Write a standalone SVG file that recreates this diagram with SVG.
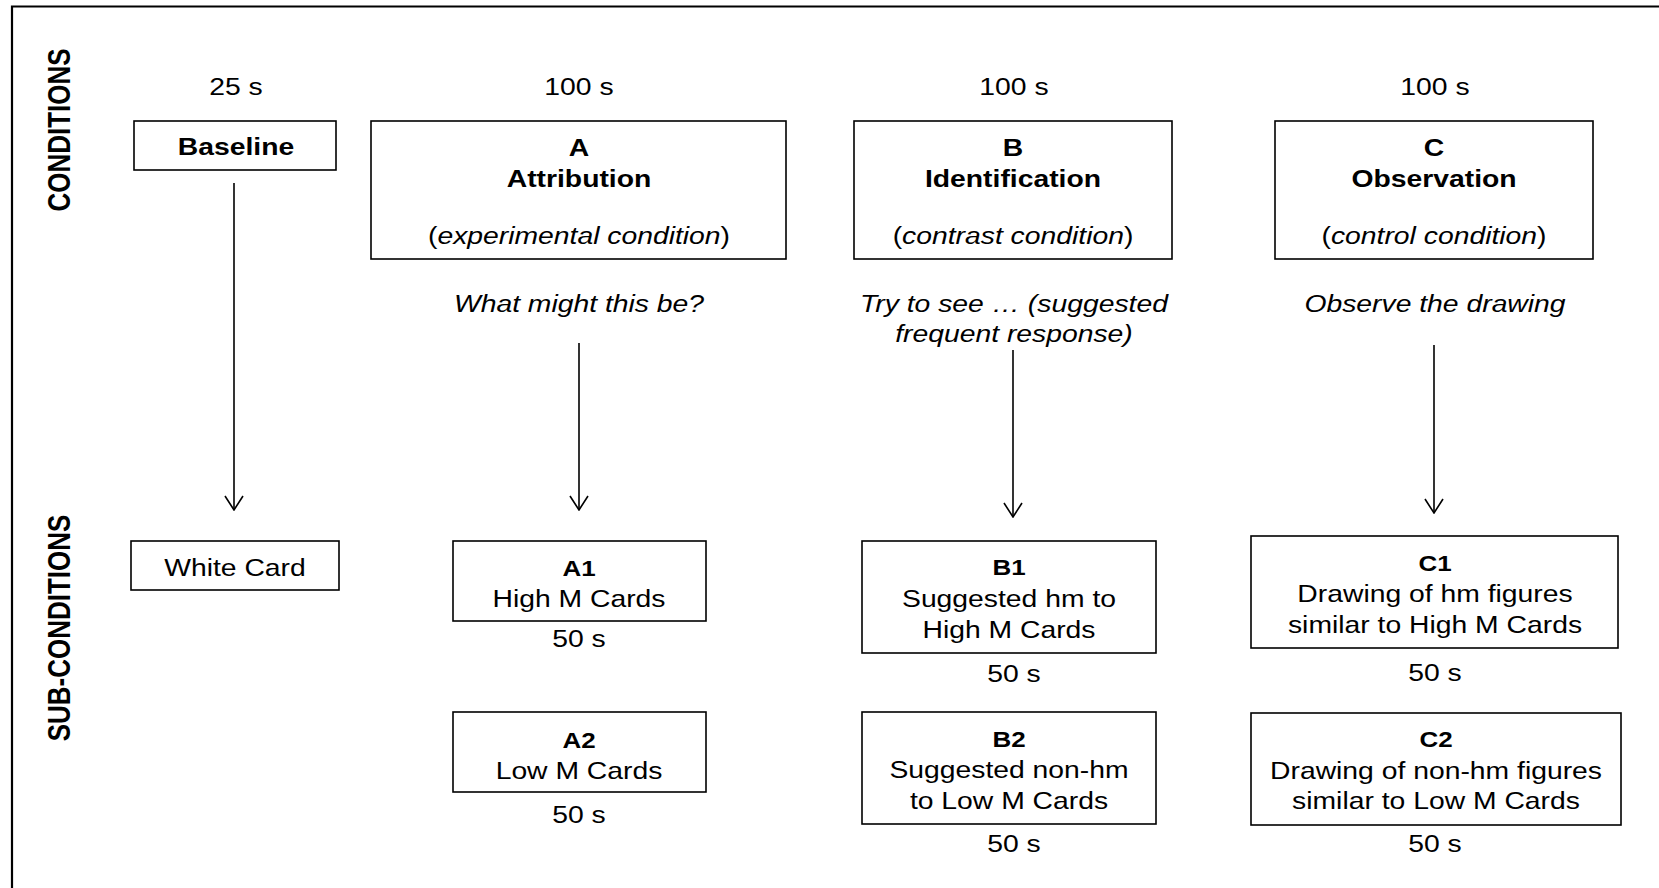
<svg xmlns="http://www.w3.org/2000/svg" width="1659" height="888" viewBox="0 0 1659 888">
<style>
.t{font-family:"Liberation Sans",Arial,sans-serif;font-size:24px;text-anchor:middle;fill:#000}
.b{font-weight:bold}
.id{font-weight:bold;font-size:22px}
.i{font-style:italic}
.side{font-family:"Liberation Sans",Arial,sans-serif;font-size:26px;font-weight:bold;text-anchor:middle;fill:#000}
.box{fill:#fff;stroke:#000;stroke-width:1.6}
.conn{stroke:#000;stroke-width:1.6;fill:none}
</style>
<defs>
<marker id="arr" viewBox="0 0 16 20" refX="15" refY="10" markerWidth="16" markerHeight="20" markerUnits="userSpaceOnUse" orient="auto">
<path d="M1,1 L15,10 L1,19" fill="none" stroke="#000" stroke-width="1.6"/>
</marker>
</defs>
<rect width="1659" height="888" fill="#fff"/>
<path d="M12,888 V6.5 H1659" fill="none" stroke="#000" stroke-width="2.2"/>

<g id="labels">
<text class="side" transform="translate(70 130) scale(1.18 1) rotate(-90)">CONDITIONS</text>
<text class="side" transform="translate(70 628) scale(1.18 1) rotate(-90)">SUB-CONDITIONS</text>
<text class="t" transform="translate(236 95) scale(1.18 1)">25 s</text>
<text class="t" transform="translate(579 95) scale(1.18 1)">100 s</text>
<text class="t" transform="translate(1014 95) scale(1.18 1)">100 s</text>
<text class="t" transform="translate(1435 95) scale(1.18 1)">100 s</text>
<text class="t i" transform="translate(579 312) scale(1.18 1)">What might this be?</text>
<text class="t i" transform="translate(1014 312) scale(1.18 1)">Try to see … (suggested</text>
<text class="t i" transform="translate(1014 342) scale(1.18 1)">frequent response)</text>
<text class="t i" transform="translate(1435 312) scale(1.18 1)">Observe the drawing</text>
</g>

<g id="node-baseline">
<rect class="box" x="134" y="121" width="202" height="49"/>
<text class="t b" transform="translate(236 155) scale(1.18 1)">Baseline</text>
</g>
<g id="node-A">
<rect class="box" x="371" y="121" width="415" height="138"/>
<text class="t b" transform="translate(579 156) scale(1.18 1)">A</text>
<text class="t b" transform="translate(579 187) scale(1.18 1)">Attribution</text>
<text class="t" transform="translate(579 244) scale(1.18 1)">(<tspan class="i">experimental condition</tspan>)</text>
</g>
<g id="node-B">
<rect class="box" x="854" y="121" width="318" height="138"/>
<text class="t b" transform="translate(1013 156) scale(1.18 1)">B</text>
<text class="t b" transform="translate(1013 187) scale(1.18 1)">Identification</text>
<text class="t" transform="translate(1013 244) scale(1.18 1)">(<tspan class="i">contrast condition</tspan>)</text>
</g>
<g id="node-C">
<rect class="box" x="1275" y="121" width="318" height="138"/>
<text class="t b" transform="translate(1434 156) scale(1.18 1)">C</text>
<text class="t b" transform="translate(1434 187) scale(1.18 1)">Observation</text>
<text class="t" transform="translate(1434 244) scale(1.18 1)">(<tspan class="i">control condition</tspan>)</text>
</g>

<g id="node-white">
<rect class="box" x="131" y="541" width="208" height="49"/>
<text class="t" transform="translate(235 576) scale(1.18 1)">White Card</text>
</g>
<g id="node-A1">
<rect class="box" x="453" y="541" width="253" height="80"/>
<text class="t id" transform="translate(579 576) scale(1.18 1)">A1</text>
<text class="t" transform="translate(579 607) scale(1.18 1)">High M Cards</text>
<text class="t" transform="translate(579 647) scale(1.18 1)">50 s</text>
</g>
<g id="node-A2">
<rect class="box" x="453" y="712" width="253" height="80"/>
<text class="t id" transform="translate(579 748) scale(1.18 1)">A2</text>
<text class="t" transform="translate(579 779) scale(1.18 1)">Low M Cards</text>
<text class="t" transform="translate(579 823) scale(1.18 1)">50 s</text>
</g>
<g id="node-B1">
<rect class="box" x="862" y="541" width="294" height="112"/>
<text class="t id" transform="translate(1009 575) scale(1.18 1)">B1</text>
<text class="t" transform="translate(1009 607) scale(1.18 1)">Suggested hm to</text>
<text class="t" transform="translate(1009 638) scale(1.18 1)">High M Cards</text>
<text class="t" transform="translate(1014 682) scale(1.18 1)">50 s</text>
</g>
<g id="node-B2">
<rect class="box" x="862" y="712" width="294" height="112"/>
<text class="t id" transform="translate(1009 747) scale(1.18 1)">B2</text>
<text class="t" transform="translate(1009 778) scale(1.18 1)">Suggested non-hm</text>
<text class="t" transform="translate(1009 809) scale(1.18 1)">to Low M Cards</text>
<text class="t" transform="translate(1014 852) scale(1.18 1)">50 s</text>
</g>
<g id="node-C1">
<rect class="box" x="1251" y="536" width="367" height="112"/>
<text class="t id" transform="translate(1435 571) scale(1.18 1)">C1</text>
<text class="t" transform="translate(1435 602) scale(1.18 1)">Drawing of hm figures</text>
<text class="t" transform="translate(1435 633) scale(1.18 1)">similar to High M Cards</text>
<text class="t" transform="translate(1435 681) scale(1.18 1)">50 s</text>
</g>
<g id="node-C2">
<rect class="box" x="1251" y="713" width="370" height="112"/>
<text class="t id" transform="translate(1436 747) scale(1.18 1)">C2</text>
<text class="t" transform="translate(1436 779) scale(1.18 1)">Drawing of non-hm figures</text>
<text class="t" transform="translate(1436 809) scale(1.18 1)">similar to Low M Cards</text>
<text class="t" transform="translate(1435 852) scale(1.18 1)">50 s</text>
</g>

<g id="connectors">
<line class="conn" x1="234" y1="183" x2="234" y2="510" marker-end="url(#arr)"/>
<line class="conn" x1="579" y1="343" x2="579" y2="510" marker-end="url(#arr)"/>
<line class="conn" x1="1013" y1="350" x2="1013" y2="517" marker-end="url(#arr)"/>
<line class="conn" x1="1434" y1="345" x2="1434" y2="513" marker-end="url(#arr)"/>
</g>
</svg>
